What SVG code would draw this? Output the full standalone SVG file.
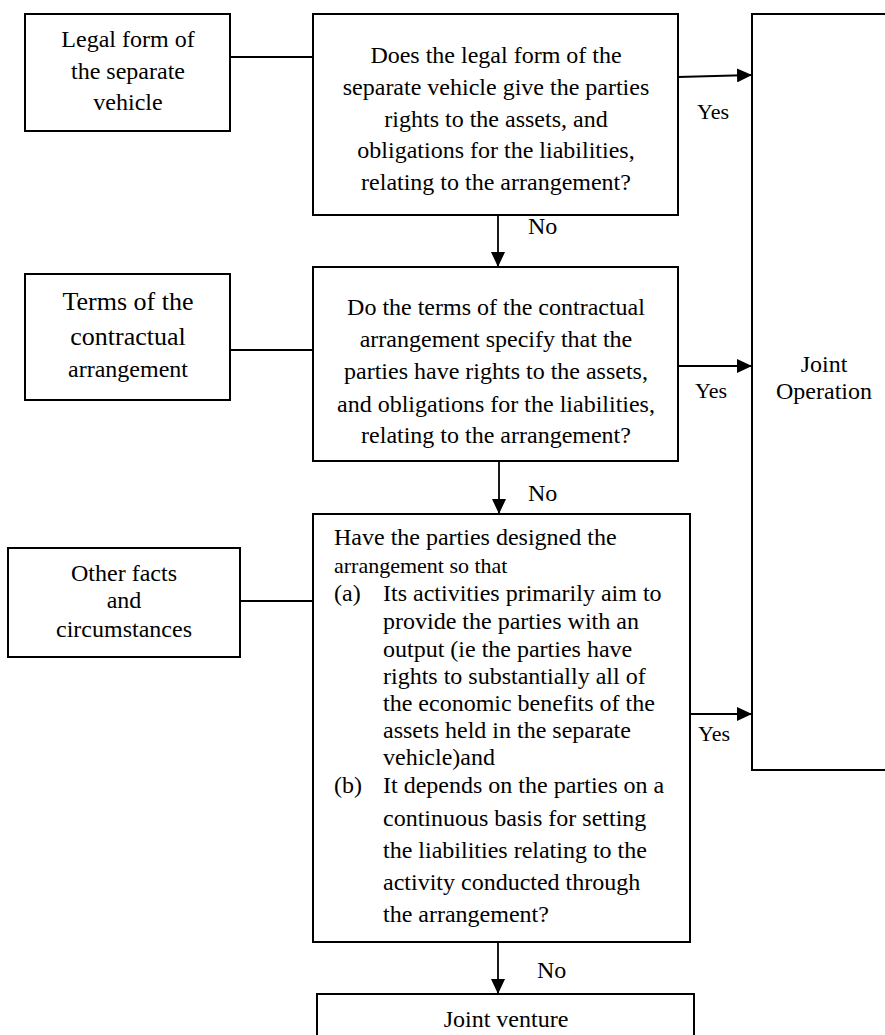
<svg xmlns="http://www.w3.org/2000/svg" width="885" height="1035" viewBox="0 0 885 1035">
<style>
.box{fill:#fff;stroke:#000;stroke-width:2}
.t{font-size:24px;fill:#000}
.c{text-anchor:middle}
.ln{stroke:#000;stroke-width:1.8;fill:none}
.ar{stroke:#000;stroke-width:1.8;fill:none;marker-end:url(#ah)}
</style>
<defs>
<marker id="ah" markerUnits="userSpaceOnUse" markerWidth="16" markerHeight="14" refX="15" refY="7" orient="auto">
<path d="M0,0 L15,7 L0,14 Z" fill="#000"/>
</marker>
</defs>
<rect width="885" height="1035" fill="#fff"/>
<g font-family="Liberation Serif, Tinos, Times New Roman, Noto Serif, DejaVu Serif, serif">

<g id="joint-operation">
<rect class="box" x="752" y="14" width="140" height="756"/>
<text class="t c" x="824" y="372">Joint</text>
<text class="t c" x="824" y="399">Operation</text>
</g>

<g id="legal-form">
<rect class="box" x="25" y="14" width="205" height="117"/>
<text class="t c" x="128" y="47">Legal form of</text>
<text class="t c" x="128" y="79">the separate</text>
<text class="t c" x="128" y="110">vehicle</text>
</g>

<g id="q1">
<rect class="box" x="313" y="14" width="365" height="201"/>
<text class="t c" x="496" y="63">Does the legal form of the</text>
<text class="t c" x="496" y="95">separate vehicle give the parties</text>
<text class="t c" x="496" y="127">rights to the assets, and</text>
<text class="t c" x="496" y="158">obligations for the liabilities,</text>
<text class="t c" x="496" y="190">relating to the arrangement?</text>
</g>

<g id="terms">
<rect class="box" x="25" y="274" width="205" height="126"/>
<text class="t c" x="128" y="310" style="font-size:26px">Terms of the</text>
<text class="t c" x="128" y="345" style="font-size:26px">contractual</text>
<text class="t c" x="128" y="377">arrangement</text>
</g>

<g id="q2">
<rect class="box" x="313" y="267" width="365" height="194"/>
<text class="t c" x="496" y="315">Do the terms of the contractual</text>
<text class="t c" x="496" y="347">arrangement specify that the</text>
<text class="t c" x="496" y="379">parties have rights to the assets,</text>
<text class="t c" x="496" y="412">and obligations for the liabilities,</text>
<text class="t c" x="496" y="443">relating to the arrangement?</text>
</g>

<g id="other-facts">
<rect class="box" x="8" y="548" width="232" height="109"/>
<text class="t c" x="124" y="581">Other facts</text>
<text class="t c" x="124" y="608">and</text>
<text class="t c" x="124" y="637">circumstances</text>
</g>

<g id="q3">
<rect class="box" x="313" y="514" width="377" height="428"/>
<text class="t" x="334" y="545">Have the parties designed the</text>
<text class="t" x="334" y="573" style="font-size:22px">arrangement so that</text>
<text class="t" x="334" y="601">(a)</text>
<text class="t" x="383" y="601">Its activities primarily aim to</text>
<text class="t" x="383" y="629">provide the parties with an</text>
<text class="t" x="383" y="657">output (ie the parties have</text>
<text class="t" x="383" y="684">rights to substantially all of</text>
<text class="t" x="383" y="711">the economic benefits of the</text>
<text class="t" x="383" y="738">assets held in the separate</text>
<text class="t" x="383" y="765">vehicle)and</text>
<text class="t" x="334" y="793">(b)</text>
<text class="t" x="383" y="793">It depends on the parties on a</text>
<text class="t" x="383" y="826">continuous basis for setting</text>
<text class="t" x="383" y="858">the liabilities relating to the</text>
<text class="t" x="383" y="890">activity conducted through</text>
<text class="t" x="383" y="922">the arrangement?</text>
</g>

<g id="joint-venture">
<rect class="box" x="317" y="994" width="377" height="50"/>
<text class="t c" x="506" y="1027">Joint venture</text>
</g>

<g id="connectors">
<line class="ln" x1="230" y1="57" x2="313" y2="57"/>
<line class="ln" x1="230" y1="350" x2="313" y2="350"/>
<line class="ln" x1="240" y1="601" x2="313" y2="601"/>
<line class="ar" x1="678" y1="77" x2="752" y2="75"/>
<line class="ar" x1="678" y1="366" x2="752" y2="366"/>
<line class="ar" x1="690" y1="714" x2="752" y2="714"/>
<line class="ar" x1="498" y1="215" x2="498" y2="267"/>
<line class="ar" x1="499" y1="461" x2="499" y2="514"/>
<line class="ar" x1="498" y1="942" x2="498" y2="994"/>
<text class="t" x="697" y="119" style="font-size:22px">Yes</text>
<text class="t" x="695" y="398" style="font-size:22px">Yes</text>
<text class="t" x="698" y="741" style="font-size:22px">Yes</text>
<text class="t" x="528" y="234">No</text>
<text class="t" x="528" y="501">No</text>
<text class="t" x="537" y="978">No</text>
</g>
</g>
</svg>
